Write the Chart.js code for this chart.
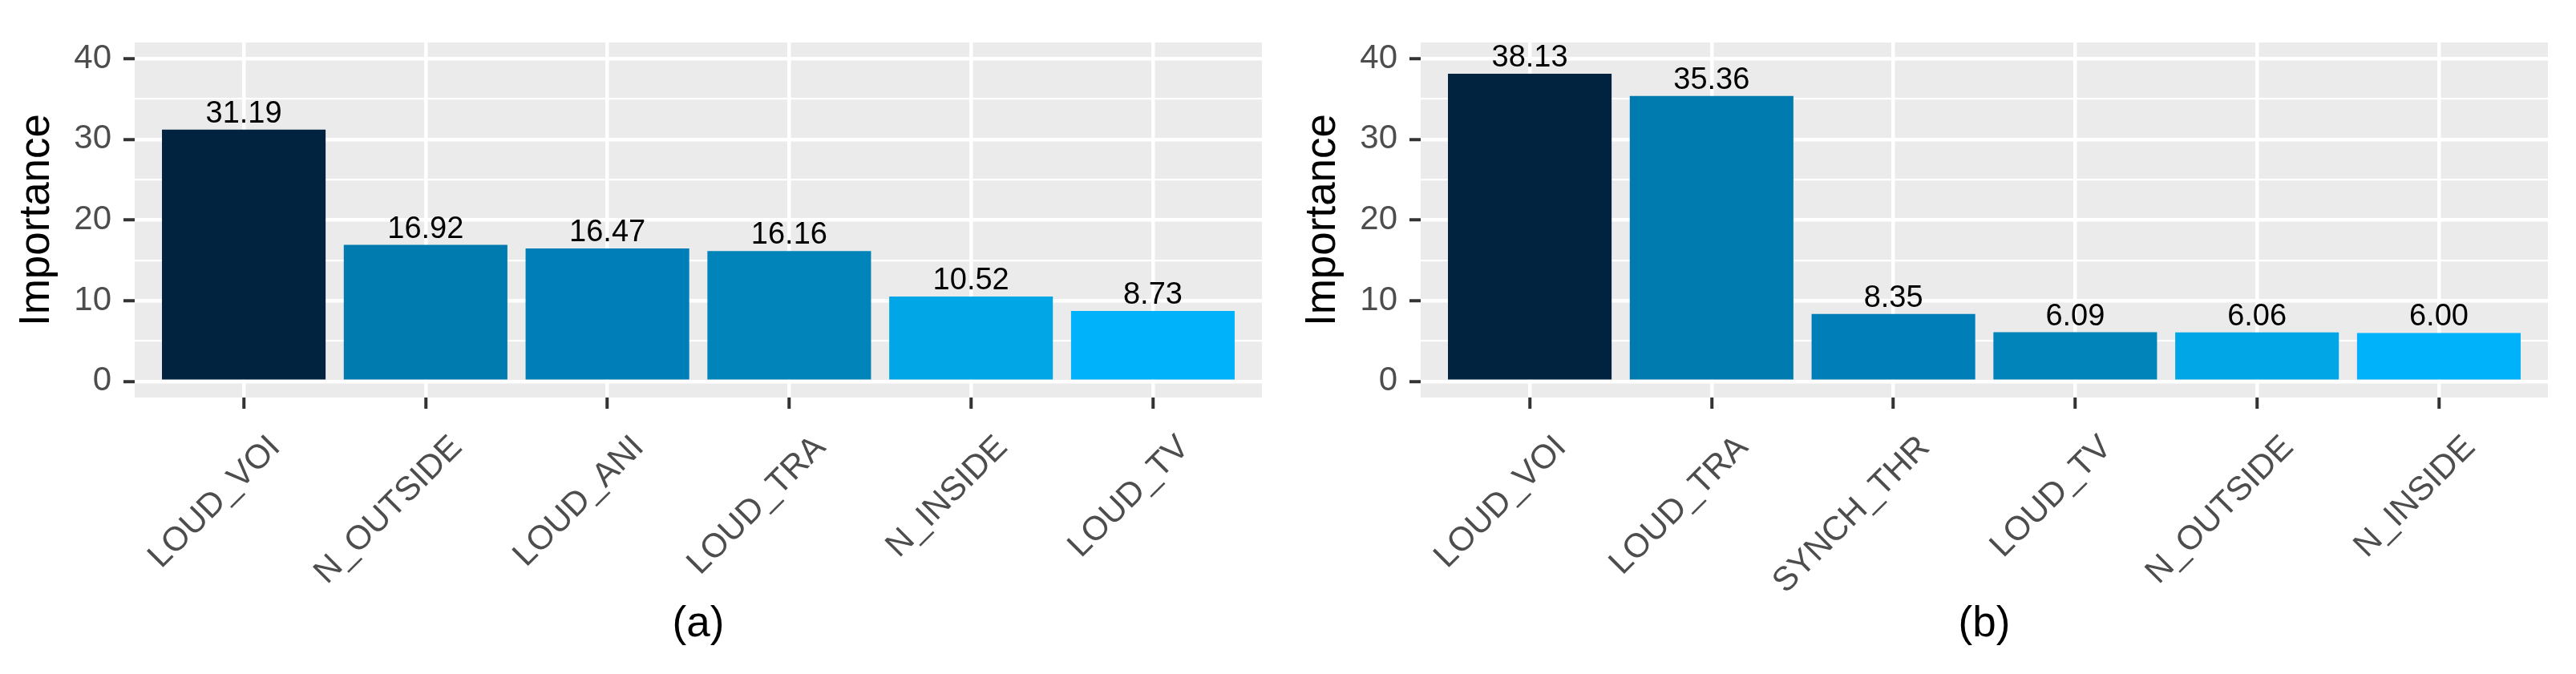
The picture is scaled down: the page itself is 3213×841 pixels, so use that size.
<!DOCTYPE html>
<html>
<head>
<meta charset="utf-8">
<title>Importance</title>
<script src="https://cdn.jsdelivr.net/npm/chart.js@4.4.1/dist/chart.umd.min.js"></script>
<style>
    html, body { margin: 0; padding: 0; background: #fff; }
    #wrap { position: relative; width: 3213px; height: 841px; overflow: hidden; }
    .panel { position: absolute; top: 0; height: 841px; }
    #panelA { left: 0; width: 1606px; }
    #panelB { left: 1604px; width: 1609px; }
</style>
</head>
<body>
<div id="wrap">
    <div class="panel" id="panelA"><canvas id="chartA" width="1606" height="841"></canvas></div>
    <div class="panel" id="panelB"><canvas id="chartB" width="1609" height="841"></canvas></div>
</div>
<script>
// Panel (a)
const categoriesA = ['LOUD_VOI', 'N_OUTSIDE', 'LOUD_ANI', 'LOUD_TRA', 'N_INSIDE', 'LOUD_TV'];
const valuesA = [31.19, 16.92, 16.47, 16.16, 10.52, 8.73];

// Panel (b)
const categoriesB = ['LOUD_VOI', 'LOUD_TRA', 'SYNCH_THR', 'LOUD_TV', 'N_OUTSIDE', 'N_INSIDE'];
const valuesB = [38.13, 35.36, 8.35, 6.09, 6.06, 6.00];

// Bar fill by rank (same in both panels)
const barColors = ['#022340', '#007BB0', '#007EB7', '#0084BA', '#00A6E6', '#00B2FA'];

// Y ticks: major ones get a label, minor ones only a thin grid line
const yMajorTicks = [0, 10, 20, 30, 40];
const yMinorTicks = [5, 15, 25, 35];
const yLabel = 'Importance';

const FONT = "'Liberation Sans', Arial, Helvetica, sans-serif";

// Grey panel behind the grid
const panelBackground = {
    id: 'panelBackground',
    beforeDraw(chart) {
        const { ctx, chartArea } = chart;
        ctx.save();
        ctx.fillStyle = '#EBEBEB';
        ctx.fillRect(chartArea.left, chartArea.top, chartArea.right - chartArea.left, chartArea.bottom - chartArea.top);
        ctx.restore();
    }
};

// Numbers on top of the bars
const valueLabels = {
    id: 'valueLabels',
    afterDatasetsDraw(chart) {
        const ctx = chart.ctx;
        const meta = chart.getDatasetMeta(0);
        const points = chart.data.datasets[0].data;
        ctx.save();
        ctx.font = '38px ' + FONT;
        ctx.fillStyle = '#000000';
        ctx.textAlign = 'center';
        ctx.textBaseline = 'alphabetic';
        meta.data.forEach((bar, i) => {
            ctx.fillText(points[i].y.toFixed(2), bar.x, bar.y - 9);
        });
        ctx.restore();
    }
};

function isMajor(context) {
    return context.tick && yMajorTicks.includes(context.tick.value);
}

// Function to create one importance bar chart
function createImportanceChart(canvasId, categories, values, caption) {
    const canvas = document.getElementById(canvasId);
    const ctx = canvas.getContext('2d');
    const rightPad = canvas.width - 1574;

    return new Chart(ctx, {
        type: 'bar',
        data: {
            datasets: [{
                data: values.map((v, i) => ({ x: i, y: v })),
                backgroundColor: barColors.slice(0, values.length),
                borderWidth: 0,
                categoryPercentage: 0.9,
                barPercentage: 1.0
            }]
        },
        options: {
            responsive: false,
            animation: false,
            devicePixelRatio: 1,
            layout: { padding: { top: 53, right: rightPad, bottom: 0, left: 0 } },
            plugins: {
                legend: { display: false },
                tooltip: { enabled: false }
            },
            scales: {
                x: {
                    type: 'linear',
                    min: -0.6,
                    max: categories.length - 0.4,
                    offset: false,
                    afterBuildTicks: scale => {
                        scale.ticks = categories.map((c, i) => ({ value: i }));
                    },
                    afterFit: scale => {
                        scale.height = 841 - 496;
                    },
                    ticks: {
                        autoSkip: false,
                        maxRotation: 45,
                        minRotation: 45,
                        labelOffset: 39,
                        padding: 24,
                        color: '#4D4D4D',
                        font: { family: FONT, size: 42 },
                        callback: v => categories[v]
                    },
                    grid: {
                        offset: false,
                        color: '#FFFFFF',
                        lineWidth: 4.5,
                        drawTicks: true,
                        tickLength: 14,
                        tickColor: '#333333',
                        tickWidth: 4
                    },
                    border: { display: false },
                    title: {
                        display: true,
                        text: caption,
                        color: '#000000',
                        font: { family: FONT, size: 53, lineHeight: 1 },
                        padding: { top: 0, bottom: 35 }
                    }
                },
                y: {
                    min: -2,
                    max: 42,
                    afterBuildTicks: scale => {
                        scale.ticks = yMajorTicks.concat(yMinorTicks).sort((a, b) => a - b).map(v => ({ value: v }));
                    },
                    afterFit: scale => {
                        scale.width = 168;
                    },
                    ticks: {
                        autoSkip: false,
                        padding: 15,
                        color: '#4D4D4D',
                        font: { family: FONT, size: 42 },
                        callback: v => (yMajorTicks.includes(v) ? String(v) : '')
                    },
                    grid: {
                        color: '#FFFFFF',
                        lineWidth: c => (isMajor(c) ? 4.5 : 2.3),
                        drawTicks: true,
                        tickLength: 14,
                        tickColor: c => (isMajor(c) ? '#333333' : 'rgba(0,0,0,0)'),
                        tickWidth: 4
                    },
                    border: { display: false },
                    title: {
                        display: true,
                        text: yLabel,
                        color: '#000000',
                        font: { family: FONT, size: 53, lineHeight: 1 },
                        padding: { top: 19.5, bottom: 0 }
                    }
                }
            }
        },
        plugins: [panelBackground, valueLabels]
    });
}

window.addEventListener('load', function () {
    createImportanceChart('chartA', categoriesA, valuesA, '(a)');
    createImportanceChart('chartB', categoriesB, valuesB, '(b)');
});
</script>
</body>
</html>
